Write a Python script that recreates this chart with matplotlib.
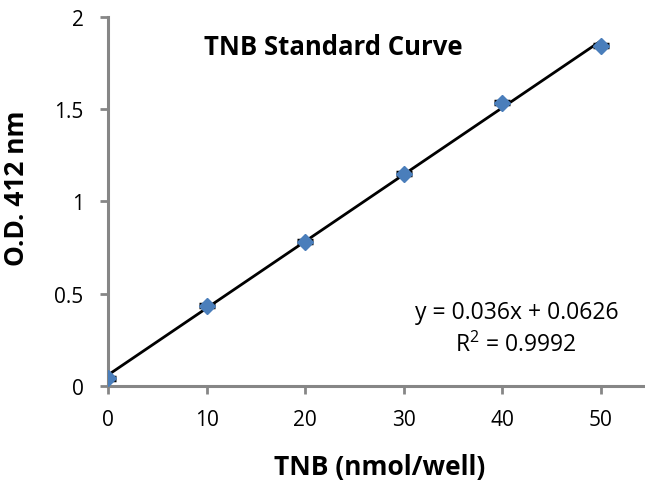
import numpy as np
import matplotlib
matplotlib.use("Agg")
import matplotlib.pyplot as plt

# TNB standard curve readings
tnb = [0, 10, 20, 30, 40, 50]          # nmol/well
od412 = [0.043, 0.434, 0.782, 1.150, 1.535, 1.843]
od_err = [0.008, 0.008, 0.008, 0.008, 0.008, 0.008]
eq_text = "y = 0.036x + 0.0626"
r2_text = "R$^2$ = 0.9992"

plt.rcParams['font.family'] = ['Open Sans', 'DejaVu Sans']
plt.rcParams['mathtext.default'] = 'regular'

fig = plt.figure(figsize=(6.45, 4.89), dpi=100)
ax = fig.add_axes([0.1674, 0.2086, 0.8326, 0.7546])

gray = '#868686'
fit = np.polyfit(tnb, od412, 1)
xs = np.array([tnb[0], tnb[-1]])
ax.plot(xs, np.polyval(fit, xs), color='black', lw=2, zorder=2)

ax.errorbar(tnb, od412, yerr=od_err, fmt='D', color='#4a7ebb', ms=8,
            ecolor='black', elinewidth=1.5, capsize=5.5, capthick=2.5, zorder=3)

ax.set_xlim(0, 54.5)
ax.set_ylim(0, 2)
ax.set_xticks([0, 10, 20, 30, 40, 50])
ax.set_yticks([0, 0.5, 1, 1.5, 2])
ax.set_yticklabels(['0', '0.5', '1', '1.5', '2'])

for s in ['top', 'right']:
    ax.spines[s].set_visible(False)
for s in ['left', 'bottom']:
    ax.spines[s].set_color(gray)
    ax.spines[s].set_linewidth(2.2)
ax.tick_params(direction='out', length=5.5, width=2, color=gray,
               labelsize=15)
ax.tick_params(axis='x', pad=11)
ax.tick_params(axis='y', pad=12)

ax.set_xlabel("TNB (nmol/well)", fontsize=19, fontweight='bold', va='center')
ax.xaxis.set_label_coords(0.5065, -0.217)
ax.set_ylabel("O.D. 412 nm", fontsize=19, fontweight='bold', va='center')
ax.yaxis.set_label_coords(-0.171, 0.539)

ax.text(0.419, 0.921, "TNB Standard Curve", transform=ax.transAxes,
        fontsize=18.5, fontweight='bold', ha='center', va='center')

ax.text(0.762, 0.2005, eq_text, transform=ax.transAxes, fontsize=16.5,
        ha='center', va='center')
ax.text(0.760, 0.114, r2_text, transform=ax.transAxes, fontsize=16.5,
        ha='center', va='center')

fig.savefig("out.png", dpi=100)
